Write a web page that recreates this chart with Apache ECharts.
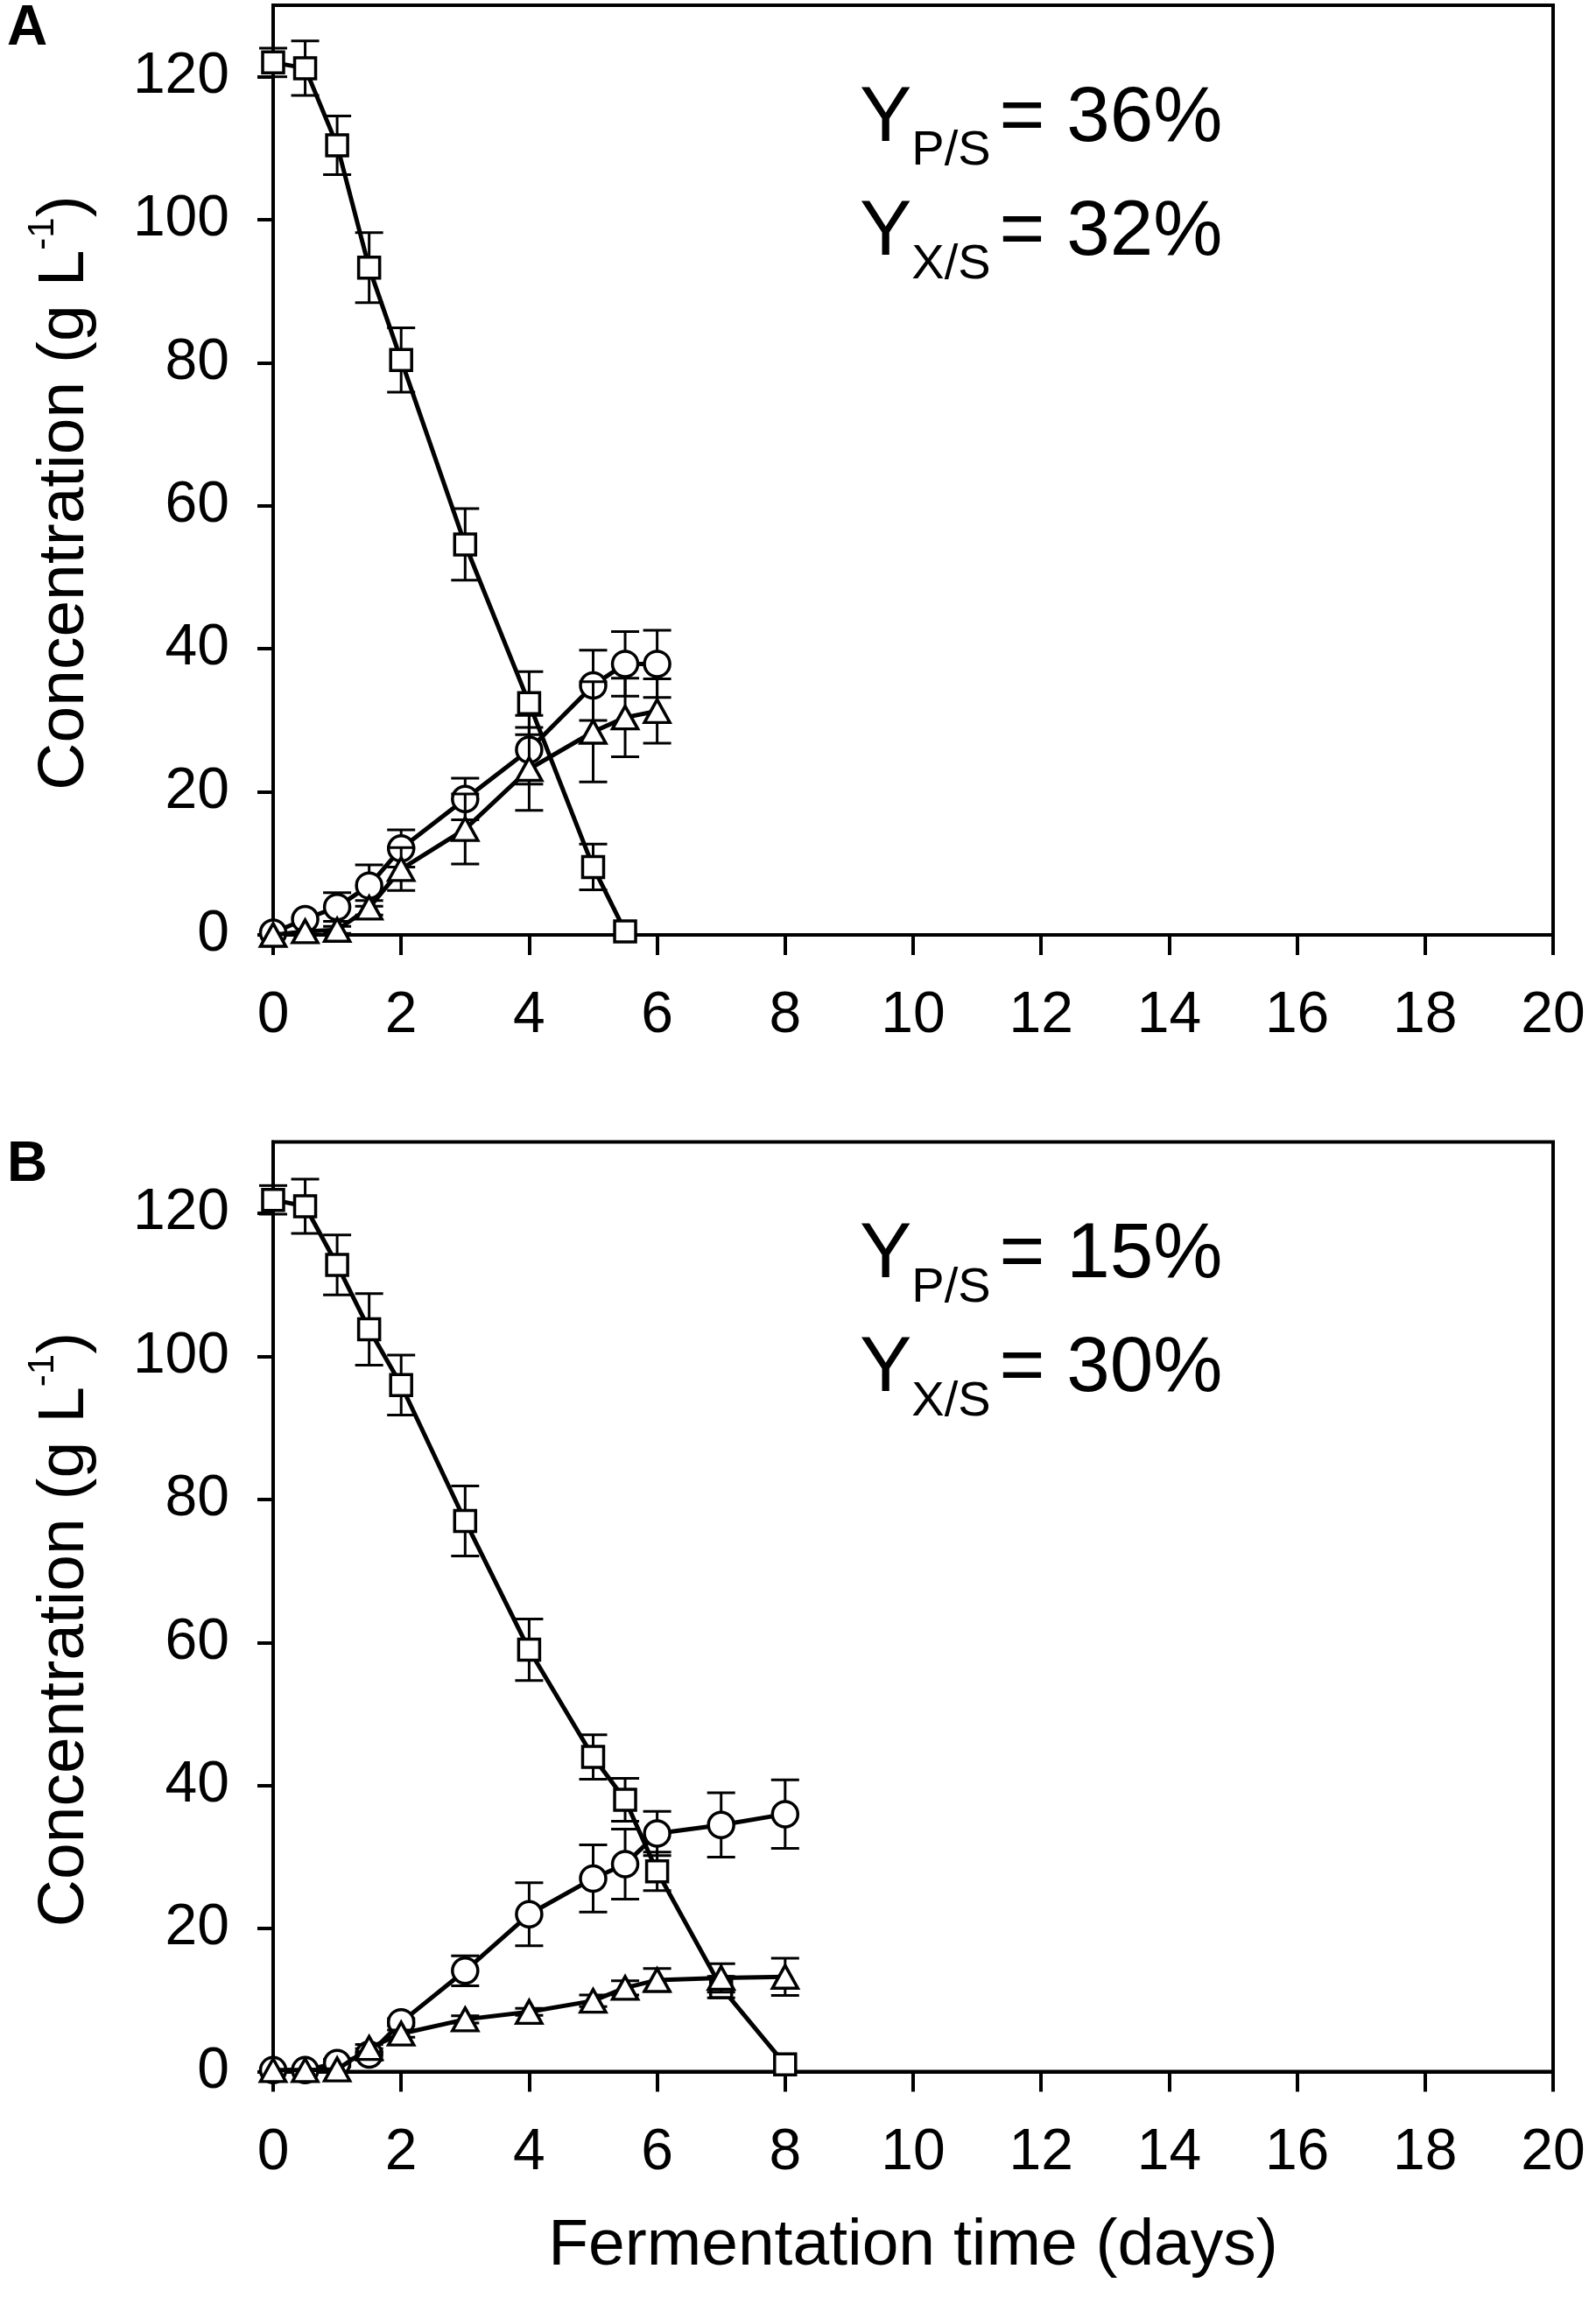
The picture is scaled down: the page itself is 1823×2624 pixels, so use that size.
<!DOCTYPE html>
<html>
<head>
<meta charset="utf-8">
<title>Fermentation kinetics</title>
<script src="https://cdn.jsdelivr.net/npm/echarts@6/dist/echarts.min.js"></script>
<style>
  body { margin: 0; background: #fff; }
  #main { width: 1823px; height: 2624px; }
</style>
</head>
<body>
<div id="main"></div>
<script>
// panel A
var sugarTimeA = [0, 0.5, 1, 1.5, 2, 3, 4, 5, 5.5];
var sugarA     = [122, 121.2, 110.4, 93.3, 80.4, 54.6, 32.4, 9.5, 0.5];
var sugarErrA  = [2, 3.8, 4.1, 4.9, 4.5, 5, 4.4, 3.2, 0];
var timeA       = [0, 0.5, 1, 1.5, 2, 3, 4, 5, 5.5, 6];
var productA    = [0.3, 2.2, 3.9, 6.9, 12.1, 19.0, 25.9, 34.9, 37.9, 37.9];
var productErrA = [0, 0, 2, 2.9, 2.6, 2.9, 4.8, 4.9, 4.5, 4.7];
var biomassA    = [0, 0.5, 0.7, 3.8, 9.2, 14.8, 23.2, 28.4, 30.4, 31.3];
var biomassErrA = [0, 0, 0.5, 1, 3, 4.9, 5.8, 7, 5.5, 4.5];

// panel B
var sugarTimeB = [0, 0.5, 1, 1.5, 2, 3, 4, 5, 5.5, 6, 7, 8];
var sugarB     = [121.9, 121, 112.8, 103.8, 96, 77, 59, 44, 38, 28, 11.8, 1];
var sugarErrB  = [2, 3.8, 4.2, 5, 4.2, 4.9, 4.3, 3.1, 3, 2.7, 1.5, 0];
var timeB       = [0, 0.5, 1, 1.5, 2, 3, 4, 5, 5.5, 6, 7, 8];
var productB    = [0.2, 0.2, 1.2, 2.4, 6.9, 14.1, 22.0, 27.0, 29.0, 33.3, 34.5, 36.0];
var productErrB = [0, 0, 0.5, 0.8, 0.5, 2.1, 4.4, 4.7, 4.9, 3.1, 4.5, 4.8];
var biomassB    = [0.2, 0.2, 0.3, 3.3, 5.3, 7.3, 8.35, 9.9, 11.7, 12.8, 13.1, 13.25];
var biomassErrB = [0, 0, 0, 0.5, 0.5, 0.5, 0.5, 0.8, 1, 1.6, 2, 2.6];

var xTicks = [0, 2, 4, 6, 8, 10, 12, 14, 16, 18, 20];
var yTicks = [0, 20, 40, 60, 80, 100, 120];
var yields = [['36%', '32%'], ['15%', '30%']];
var panelNames = ['A', 'B'];

var FONT = '"Liberation Sans", Arial, Helvetica, sans-serif';
var chart = echarts.init(document.getElementById('main'));

function zip(xs, ys) { return xs.map(function (x, i) { return [x, ys[i]]; }); }
function zip3(xs, ys, es) { return xs.map(function (x, i) { return [x, ys[i], es[i]]; }); }

function renderErr(params, api) {
  var x = api.value(0), y = api.value(1), e = api.value(2);
  if (!e) return null;
  var top = api.coord([x, y + e]);
  var bot = api.coord([x, y - e]);
  var hw = 16;
  var st = { stroke: '#000', lineWidth: 3 };
  return {
    type: 'group',
    children: [
      { type: 'line', shape: { x1: top[0], y1: top[1], x2: bot[0], y2: bot[1] }, style: st },
      { type: 'line', shape: { x1: top[0] - hw, y1: top[1], x2: top[0] + hw, y2: top[1] }, style: st },
      { type: 'line', shape: { x1: bot[0] - hw, y1: bot[1], x2: bot[0] + hw, y2: bot[1] }, style: st }
    ]
  };
}

var gridTops = [6, 1304.5];
var grids = [], xAxes = [], yAxes = [], series = [], graphics = [];

gridTops.forEach(function (top, k) {
  grids.push({
    left: 312, top: top, width: 1462, height: 1062,
    show: true, borderColor: '#000', borderWidth: 4, backgroundColor: 'transparent',
    containLabel: false, outerBoundsMode: 'none'
  });
  xAxes.push({
    type: 'value', gridIndex: k, min: 0, max: 20, interval: 2,
    name: k === 1 ? 'Fermentation time (days)' : '',
    nameLocation: 'middle', nameGap: 162, nameMoveOverlap: false,
    nameTextStyle: { fontFamily: FONT, fontSize: 75, color: '#000' },
    axisLine: { show: true, onZero: false, lineStyle: { color: '#000', width: 4 } },
    axisTick: { show: true, inside: false, length: 23, lineStyle: { color: '#000', width: 4 } },
    axisLabel: { show: true, margin: 60, fontFamily: FONT, fontSize: 66, color: '#000',
                 customValues: xTicks },
    splitLine: { show: false }
  });
  yAxes.push({
    type: 'value', gridIndex: k, min: 0, max: 130,
    name: '{t|Concentration (g L}{sup|-1}{t|)}',
    nameLocation: 'middle', nameGap: 192, nameRotate: 90, nameMoveOverlap: false,
    nameTextStyle: {
      fontFamily: FONT, color: '#000', padding: [0, 52, 0, 0],
      rich: {
        t: { fontFamily: FONT, fontSize: 75, lineHeight: 92, color: '#000' },
        sup: { fontFamily: FONT, fontSize: 42, lineHeight: 30, verticalAlign: 'top', color: '#000' }
      }
    },
    axisLine: { show: true, onZero: false, lineStyle: { color: '#000', width: 4 } },
    axisTick: { show: true, inside: false, length: 18, lineStyle: { color: '#000', width: 4 },
                customValues: yTicks },
    axisLabel: { show: true, margin: 50, fontFamily: FONT, fontSize: 66, color: '#000',
                 customValues: yTicks },
    splitLine: { show: false }
  });

  // panel letter
  graphics.push({
    type: 'text', x: 8, y: top - 5,
    style: { text: panelNames[k], fontFamily: FONT, fontSize: 64, fontWeight: 'bold', fill: '#000' }
  });
  // yield annotation
  graphics.push({
    type: 'text', x: 982, y: top + 65,
    style: {
      text: '{m|Y}{s|P/S}{e|= ' + yields[k][0] + '}\n{m|Y}{s|X/S}{e|= ' + yields[k][1] + '}',
      fill: '#000',
      rich: {
        m: { fontFamily: FONT, fontSize: 89, lineHeight: 130, fill: '#000' },
        s: { fontFamily: FONT, fontSize: 56, lineHeight: 50, verticalAlign: 'bottom', fill: '#000' },
        e: { fontFamily: FONT, fontSize: 89, lineHeight: 130, padding: [0, 0, 0, 10], fill: '#000' }
      }
    }
  });
});

function addSet(k, xs, ys, es, symbol, size, zBase) {
  series.push({
    type: 'custom', xAxisIndex: k, yAxisIndex: k, z: zBase,
    renderItem: renderErr, data: zip3(xs, ys, es), encode: { x: 0, y: 1 },
    silent: true, clip: false
  });
  series.push({
    type: 'line', xAxisIndex: k, yAxisIndex: k, z: zBase + 1,
    data: zip(xs, ys), symbol: symbol, symbolSize: size, showAllSymbol: true,
    clip: false, silent: true, animation: false,
    lineStyle: { color: '#000', width: 5 },
    itemStyle: { color: '#fff', borderColor: '#000', borderWidth: 3.5 }
  });
}

addSet(0, sugarTimeA, sugarA, sugarErrA, 'rect', 24, 2);
addSet(0, timeA, productA, productErrA, 'circle', 29, 4);
addSet(0, timeA, biomassA, biomassErrA, 'triangle', [29, 26], 6);
addSet(1, sugarTimeB, sugarB, sugarErrB, 'rect', 24, 2);
addSet(1, timeB, productB, productErrB, 'circle', 29, 4);
addSet(1, timeB, biomassB, biomassErrB, 'triangle', [29, 26], 6);

chart.setOption({
  animation: false,
  backgroundColor: '#fff',
  grid: grids,
  xAxis: xAxes,
  yAxis: yAxes,
  series: series,
  graphic: graphics
});
</script>
</body>
</html>
